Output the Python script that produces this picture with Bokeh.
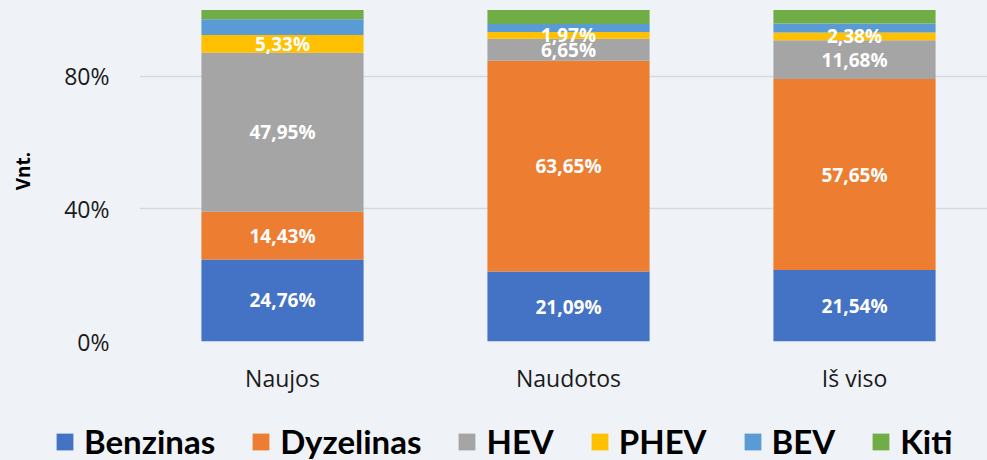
from bokeh.plotting import figure
from bokeh.layouts import column
from bokeh.models import ColumnDataSource, Range1d, FixedTicker, Legend, LegendItem
from bokeh.embed import file_html
from bokeh.resources import INLINE
from bokeh.core.properties import value

categories = ["Naujos", "Naudotos", "Iš viso"]
series = ["Benzinas", "Dyzelinas", "HEV", "PHEV", "BEV", "Kiti"]
benzinas = [24.76, 21.09, 21.54]
dyzelinas = [14.43, 63.65, 57.65]
hev = [47.95, 6.65, 11.68]
phev = [5.33, 1.97, 2.38]
bev = [4.80, 2.45, 2.70]
kiti = [2.73, 4.19, 4.05]
labelled = ["Benzinas", "Dyzelinas", "HEV", "PHEV"]
colors = ["#4472C4", "#ED7D31", "#A5A5A5", "#FFC000", "#5B9BD5", "#70AD47"]
y_ticks = [0, 40, 80]
y_tick_labels = ["0%", "40%", "80%"]

BG = "#EFF3F7"
xpos = [i + 0.5 for i in range(len(categories))]
data = {"x": xpos, "Benzinas": benzinas, "Dyzelinas": dyzelinas, "HEV": hev,
        "PHEV": phev, "BEV": bev, "Kiti": kiti}
src = ColumnDataSource(data)

p = figure(width=987, height=400, output_backend="svg", toolbar_location=None,
           x_range=Range1d(0, 2.965), y_range=Range1d(0, 102.9),
           min_border_left=139, min_border_right=0, min_border_top=0, min_border_bottom=59,
           background_fill_color=BG, border_fill_color=BG, outline_line_color=None)

renderers = p.vbar_stack(series, x="x", width=0.567, color=colors, source=src,
                         line_color=None)

# data labels
lx, ly, lt = [], [], []
arrays = {"Benzinas": benzinas, "Dyzelinas": dyzelinas, "HEV": hev, "PHEV": phev, "BEV": bev, "Kiti": kiti}
base = [0.0] * len(categories)
for s in series:
    vals = arrays[s]
    for i, v in enumerate(vals):
        if s in labelled:
            lx.append(xpos[i])
            ly.append(base[i] + v / 2)
            lt.append(f"{v:.2f}".replace(".", ",") + "%")
        base[i] += v
p.text(x=lx, y=ly, text=lt, text_color="white", text_align="center", text_baseline="middle",
       text_font=value("Open Sans"), text_font_style="bold", text_font_size="19px")

# axes
p.xaxis.ticker = FixedTicker(ticks=xpos)
p.xaxis.major_label_overrides = {x: c for x, c in zip(xpos, categories)}
p.yaxis.ticker = FixedTicker(ticks=y_ticks)
p.yaxis.major_label_overrides = {t: l for t, l in zip(y_ticks, y_tick_labels)}
for ax in (p.xaxis, p.yaxis):
    ax.axis_line_color = None
    ax.major_tick_line_color = None
    ax.minor_tick_line_color = None
    ax.major_label_text_font = "Open Sans"
    ax.major_label_text_font_size = "23px"
    ax.major_label_text_color = "#1a1a1a"
p.xaxis.major_label_standoff = 14
p.yaxis.major_label_standoff = 24
p.yaxis.axis_label = "Vnt."
p.yaxis.axis_label_text_font = "Open Sans"
p.yaxis.axis_label_text_font_style = "bold"
p.yaxis.axis_label_text_font_size = "19px"
p.yaxis.axis_label_text_color = "#000000"
p.yaxis.axis_label_standoff = 25

p.xgrid.grid_line_color = None
p.ygrid.grid_line_color = "#D9D9D9"
p.ygrid.grid_line_width = 1.5

# legend strip (separate figure below the chart)
pl = figure(width=987, height=60, output_backend="svg", toolbar_location=None,
            x_range=Range1d(0, 1), y_range=Range1d(1000, 1001),
            x_axis_location=None, y_axis_location=None,
            min_border_left=0, min_border_right=0, min_border_top=0, min_border_bottom=0,
            background_fill_color=BG, border_fill_color=BG, outline_line_color=None)
pl.grid.visible = False
for fig in (p, pl):
    if "frame_align" in fig.properties():
        fig.frame_align = False
lrenderers = pl.vbar_stack(series, x="x", width=0.5, color=colors, source=src, line_color=None)

legend = Legend(items=[LegendItem(label=s, renderers=[r]) for s, r in zip(series, lrenderers)],
                orientation="horizontal", location=(54, -1))
legend.label_text_font = "Lato"
legend.label_text_font_style = "bold"
legend.label_text_font_size = "33px"
legend.label_text_color = "#000000"
legend.glyph_width = 21
legend.glyph_height = 21
legend.label_standoff = 9
legend.spacing = 35
legend.padding = 0
legend.margin = 0
legend.background_fill_alpha = 0
legend.border_line_color = None
pl.add_layout(legend, "center")

layout = column(p, pl, spacing=0, styles={"background-color": BG})
open("out.html", "w").write(file_html(layout, INLINE))
